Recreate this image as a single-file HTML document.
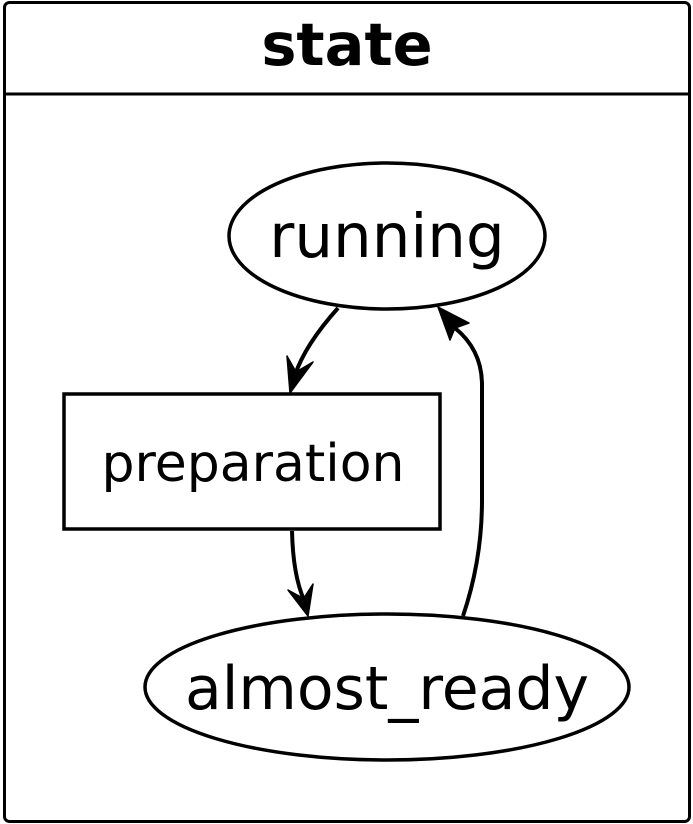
<!DOCTYPE html>
<html><head><meta charset="utf-8"><style>html,body{margin:0;padding:0;background:#fff}svg{display:block}</style></head>
<body>
<svg width="693" height="824" viewBox="0 0 693 824" xmlns="http://www.w3.org/2000/svg">
<rect x="4.5" y="2.5" width="685" height="819" rx="5" fill="#fff" stroke="#000" stroke-width="3"/>
<line x1="4.5" y1="94" x2="689.5" y2="94" stroke="#000" stroke-width="3"/>
<text x="347" y="65" text-anchor="middle" font-family="DejaVu Sans, sans-serif" font-weight="bold" font-size="59">state</text>
<ellipse cx="387" cy="236" rx="158" ry="73" fill="#fff" stroke="#000" stroke-width="3.5"/>
<text x="387" y="257" text-anchor="middle" font-family="DejaVu Sans, sans-serif" font-size="61">running</text>
<rect x="64" y="394" width="376" height="135" fill="#fff" stroke="#000" stroke-width="3.5"/>
<text x="253" y="481" text-anchor="middle" font-family="DejaVu Sans, sans-serif" font-size="52">preparation</text>
<ellipse cx="387" cy="687" rx="242" ry="73" fill="#fff" stroke="#000" stroke-width="3.5"/>
<text x="387" y="709" text-anchor="middle" font-family="DejaVu Sans, sans-serif" font-size="60">almost_ready</text>
<g fill="none" stroke="#000" stroke-width="4">
<path d="M338,308 Q305,345 295,375"/>
<path d="M292,531 Q293,575 304,600"/>
<path d="M463,616 Q482,560 482,500 L482,385 Q482,350 455,328"/>
</g>
<g fill="#000" stroke="#000" stroke-width="1.5" stroke-linejoin="round">
<path d="M290,393 L287,356 L296,372 L313,362 Z"/>
<path d="M308,616 L288,590 L303.6,598.5 L313,584 Z"/>
<path d="M438,307 L469,323 L455,328 L450,340 Z"/>
</g>
</svg>
</body></html>
